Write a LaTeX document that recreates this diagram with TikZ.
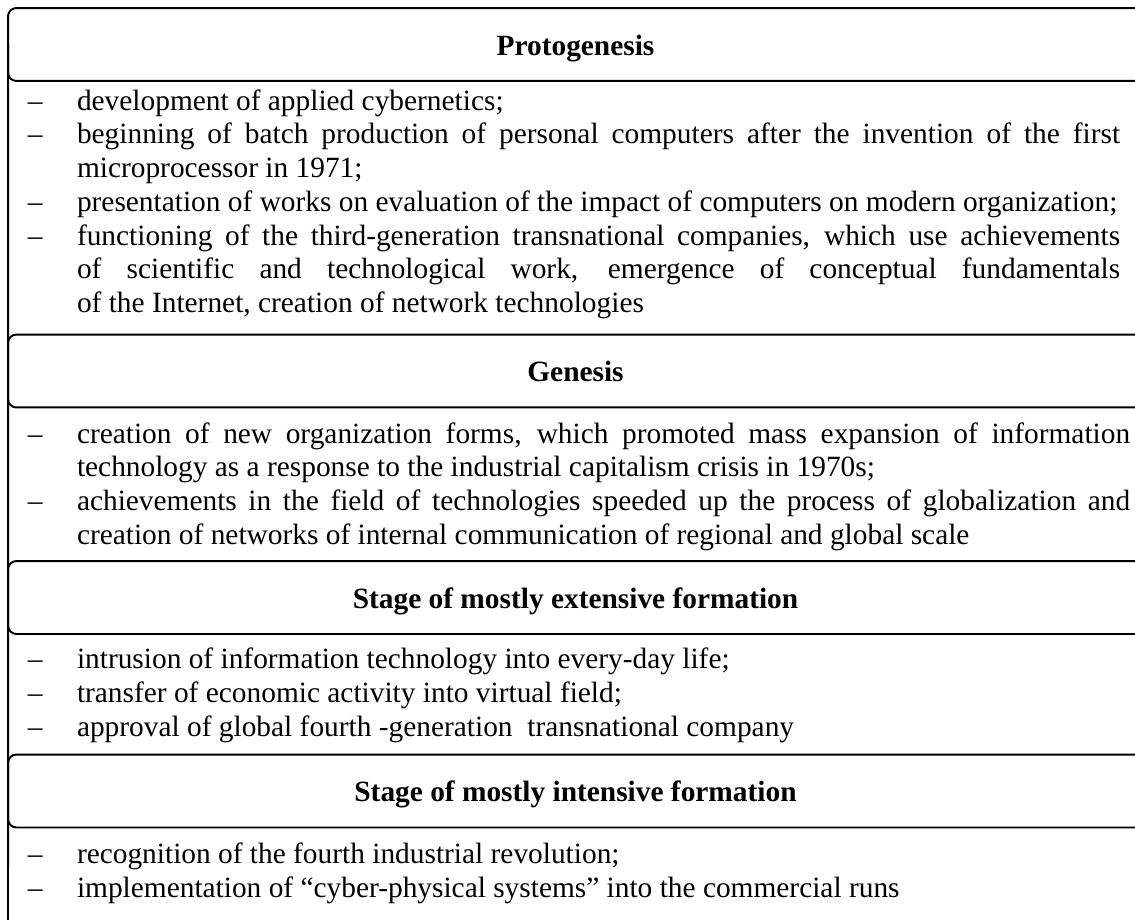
\documentclass[tikz,border=0pt]{standalone}
\usepackage{fontspec}
\setmainfont{Liberation Serif}
\usetikzlibrary{positioning}

\begin{document}
\begin{tikzpicture}[x=0.4085pt, y=-0.4085pt,
      every node/.append style={inner sep=0pt, outer sep=0pt},
      txt/.style={font={\fontsize{12}{13.8}\selectfont\tolerance=10000 }},
      stage/.style={draw, line width=0.8pt, rounded corners=3.4pt,
        minimum width=463.6pt, minimum height=29.8pt,
        text height=8.6pt, text depth=0pt,
        font={\fontsize{12}{13.8}\selectfont\bfseries}},
      point/.style={txt, anchor=base west, align=justify, text width=426.1pt},
      wide/.style={text width=430.2pt},
      hyph/.style={txt, anchor=base west},
      border/.style={line width=0.8pt}]

  \useasboundingbox (0,0) rectangle (1135,920);

  % stage headers
  \node [stage] (proto)  at (575.5,44.5) {Protogenesis};
  \node [stage] (gen)    at (575.5,371)  {Genesis};
  \node [stage] (ext)    at (575.5,597.5) {Stage of mostly extensive formation};
  \node [stage] (intens) at (575.5,791)  {Stage of mostly intensive formation};
  \coordinate (bottom) at (8,925);

  % Protogenesis
  \node [hyph] (dp1) at (28,110) {–};
  \node [point] (p1) at (77,110) {development of applied cybernetics;};
  \node [hyph] (dp2) at (28,143.8) {–};
  \node [point] (p2) at (77,143.8) {beginning of batch production of personal computers after the invention of the first\linebreak microprocessor in 1971;};
  \node [hyph] (dp3) at (28,211.4) {–};
  \node [point] (p3) at (77,211.4) {presentation of works on evaluation of the impact of computers on modern organization;};
  \node [hyph] (dp4) at (28,245.2) {–};
  \node [point] (p4) at (77,245.2) {functioning of the third-generation transnational companies, which use achievements\linebreak of scientific and technological work, emergence of conceptual fundamentals\linebreak of the Internet, creation of network technologies};

  % Genesis
  \node [hyph] (dg1) at (28,443) {–};
  \node [point, wide] (g1) at (77,443) {creation of new organization forms, which promoted mass expansion of information\linebreak technology as a response to the industrial capitalism crisis in 1970s;};
  \node [hyph] (dg2) at (28,510.6) {–};
  \node [point, wide] (g2) at (77,510.6) {achievements in the field of technologies speeded up the process of globalization and\linebreak creation of networks of internal communication of regional and global scale};

  % extensive formation
  \node [hyph] (de1) at (28,668) {–};
  \node [point] (e1) at (77,668) {intrusion of information technology into every-day life;};
  \node [hyph] (de2) at (28,702) {–};
  \node [point] (e2) at (77,702) {transfer of economic activity into virtual field;};
  \node [hyph] (de3) at (28,736) {–};
  \node [point] (e3) at (77,736) {approval of global fourth -generation\ \ transnational company};

  % intensive formation
  \node [hyph] (di1) at (28,863) {–};
  \node [point] (i1) at (77,863) {recognition of the fourth industrial revolution;};
  \node [hyph] (di2) at (28,897) {–};
  \node [point] (i2) at (77,897) {implementation of “cyber-physical systems” into the commercial runs};

  % left rule
  \draw [border] (proto.west) -- (gen.west) -- (ext.west) -- (intens.west) -- (bottom);
\end{tikzpicture}
\end{document}
